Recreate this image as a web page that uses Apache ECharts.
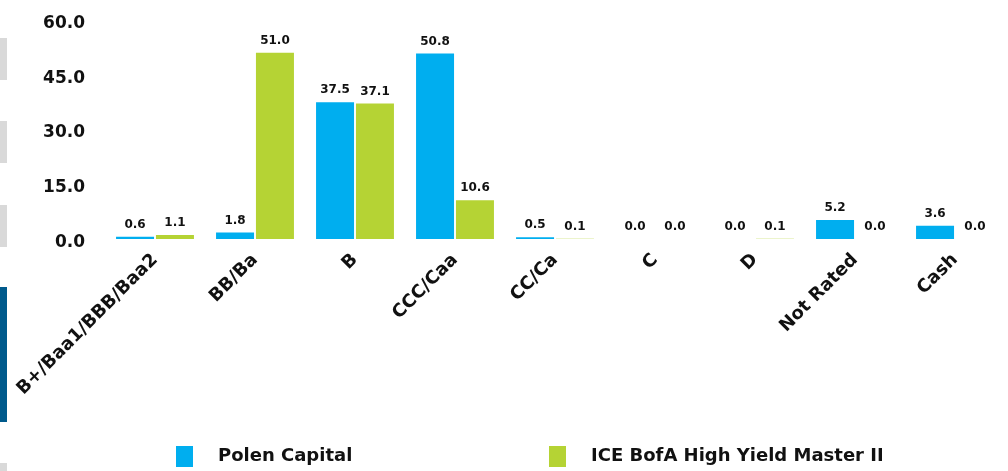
<!DOCTYPE html>
<html><head><meta charset="utf-8">
<script src="https://cdn.jsdelivr.net/npm/echarts@6/dist/echarts.min.js"></script>
<style>html,body{margin:0;padding:0;background:#fff}#c{width:1008px;height:471px}</style>
</head><body><div id="c"></div>
<script>
const categories = ['B+/Baa1/BBB/Baa2','BB/Ba','B','CCC/Caa','CC/Ca','C','D','Not Rated','Cash'];
const polen = [0.6, 1.8, 37.5, 50.8, 0.5, 0.0, 0.0, 5.2, 3.6];
const ice = [1.1, 51.0, 37.1, 10.6, 0.1, 0.0, 0.1, 0.0, 0.0];
const seriesNames = ['Polen Capital', 'ICE BofA High Yield Master II'];
const yTicks = [0, 15, 30, 45, 60];

const FONT = 'DejaVu Sans';
const chart = echarts.init(document.getElementById('c'));
const lbl = {show:true, position:'top', distance:6, color:'#111', fontFamily:FONT, fontWeight:'bold', fontSize:12, formatter:p=>p.value.toFixed(1)};
const legendText = {fontFamily:FONT, fontWeight:'bold', fontSize:18, color:'#111', padding:[0,0,0,20]};
chart.setOption({
  animation:false,
  grid:{left:105, right:3, top:20, bottom:232},
  legend:[
    {top:441, left:171, itemWidth:17, itemHeight:21, icon:'rect', textStyle:legendText, data:[seriesNames[0]]},
    {top:441, left:544, itemWidth:17, itemHeight:21, icon:'rect', textStyle:legendText, data:[seriesNames[1]]}
  ],
  xAxis:{
    type:'category', data:categories,
    axisLine:{show:false}, axisTick:{show:false},
    axisLabel:{rotate:45, interval:0, margin:18, fontFamily:FONT, fontWeight:'bold', fontSize:18, color:'#111'}
  },
  yAxis:{
    type:'value', min:yTicks[0], max:yTicks[yTicks.length-1], interval:15,
    splitLine:{show:false}, axisLine:{show:false}, axisTick:{show:false},
    axisLabel:{margin:20, fontFamily:FONT, fontWeight:'bold', fontSize:17, color:'#111',
      formatter:v=>'{v|'+v.toFixed(1)+'}',
      rich:{v:{fontFamily:FONT, fontWeight:'bold', fontSize:17, color:'#111', padding:[7,0,0,0]}}}
  },
  series:[
    {name:seriesNames[0], type:'bar', data:polen, barWidth:38, barGap:'5%', itemStyle:{color:'#00AEEF'}, label:lbl},
    {name:seriesNames[1], type:'bar', data:ice, barWidth:38, itemStyle:{color:'#B5D334'}, label:lbl}
  ],
  graphic:[
    {type:'rect', left:0, top:38, shape:{width:7, height:42}, style:{fill:'#d9d9d9'}},
    {type:'rect', left:0, top:121, shape:{width:7, height:42}, style:{fill:'#d9d9d9'}},
    {type:'rect', left:0, top:205, shape:{width:7, height:42}, style:{fill:'#d9d9d9'}},
    {type:'rect', left:0, top:287, shape:{width:7, height:135}, style:{fill:'#005a8c'}},
    {type:'rect', left:0, top:463, shape:{width:7, height:8}, style:{fill:'#d9d9d9'}}
  ]
});
</script></body></html>
